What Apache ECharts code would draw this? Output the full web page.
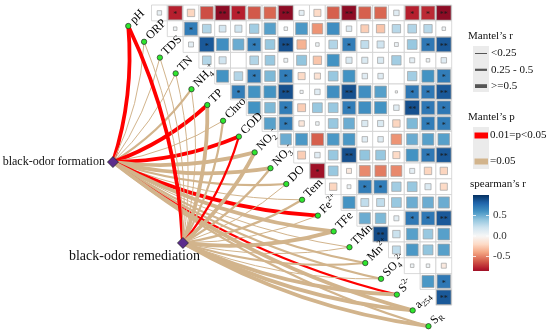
<!DOCTYPE html>
<html><head><meta charset="utf-8">
<script src="https://cdn.jsdelivr.net/npm/echarts@6/dist/echarts.min.js"></script>
<style>html,body{margin:0;padding:0;background:#fff}#c{width:550px;height:334px}</style>
</head><body><div id="c"></div>
<script>
// ---------------- DATA ----------------
const variables = ['pH','ORP','TDS','TN','NH4+','TP','Chro','COD','NO2-','NO3-','DO','Tem','Fe2+','TFe','TMn','Mn2+','SO42-','S2-','a254','SR'];
const variableLabels = ['{n|pH}','{n|ORP}','{n|TDS}','{n|TN}','{n|NH}{sb|4}{sp|+}','{n|TP}','{n|Chro}','{n|COD}',
  '{n|NO}{sb|2}{sp|-}','{n|NO}{sb|3}{sp|-}','{n|DO}','{n|Tem}','{n|Fe}{sp|2+}','{n|TFe}','{n|TMn}','{n|Mn}{sp|2+}',
  '{n|SO}{sb|4}{sp|2-}','{n|S}{sp|2-}','{n|a}{sb|254}','{n|S}{sb|R}'];
// upper triangle: row i (variables[i]) vs columns variables[i+1..19]
const spearmanR = [
 [0.08,-0.78,-0.22,-0.65,-0.9,-0.78,-0.62,-0.58,-0.9,0.1,-0.2,-0.6,-0.9,-0.6,-0.58,0.12,-0.78,-0.75,-0.9],
 [0.05,0.7,0.3,0.18,0.2,0.35,0.55,0.05,0.58,-0.45,0.62,0.12,-0.25,-0.28,0.28,0.3,0.28,0.05],
 [0.1,0.85,0.62,0.5,0.7,0.38,0.88,-0.35,0.05,0.3,0.7,0.25,0.2,0.06,0.38,0.72,0.85],
 [0.3,0.2,0.0,0.3,0.38,0.06,0.4,-0.28,0.6,0.15,0.15,0.15,0.35,0.1,0.05,0.12],
 [0.6,0.3,0.7,0.45,0.7,-0.2,-0.15,0.38,0.6,0.12,0.12,0.0,0.35,0.6,0.7],
 [0.7,0.6,0.6,0.88,0.04,0.12,0.62,0.88,0.62,0.55,0.02,0.72,0.72,0.85],
 [0.6,0.45,0.7,-0.25,0.38,0.38,0.7,0.62,0.6,0.12,0.88,0.72,0.72],
 [0.55,0.7,-0.12,0.05,0.38,0.5,0.15,0.15,-0.22,0.45,0.7,0.7],
 [0.5,0.58,-0.6,0.58,0.58,0.12,0.12,-0.45,0.5,0.55,0.55],
 [-0.25,0.12,0.38,0.88,0.4,0.38,-0.2,0.6,0.72,0.85],
 [-0.85,0.38,-0.1,-0.48,-0.52,-0.48,0.1,-0.22,-0.22],
 [-0.22,0.06,0.7,0.7,0.35,0.38,0.15,-0.2],
 [0.6,0.25,0.25,0.38,0.5,0.5,0.5],
 [0.5,0.45,0.1,0.72,0.72,0.85],
 [0.9,0.22,0.55,0.38,0.55],
 [0.25,0.58,0.4,0.55],
 [0.05,0.05,-0.1],
 [0.58,0.72],
 [0.85]
];
const spearmanSig = [
 ['','*','','','**','*','','','**','','','','**','','','','*','*','**'],
 ['','*','','','','','','','','','','','','','','','',''],
 ['','*','','','*','','**','','','','*','','','','','*','**'],
 ['','','','','','','','','','','','','','','',''],
 ['','','*','','*','','','','','','','','','','*'],
 ['*','','','**','','','','**','','','','*','*','**'],
 ['','','*','','','','*','','','','**','*','*'],
 ['','*','','','','','','','','','*','*'],
 ['','','','','','','','','','',''],
 ['','','','**','','','','','*','**'],
 ['*','','','','','','','',''],
 ['','','*','*','','','',''],
 ['','','','','','',''],
 ['','','','*','*','**'],
 ['**','','','',''],
 ['','','',''],
 ['','',''],
 ['','*'],
 ['**']
];
const groups = ['black-odor formation','black-odor remediation'];
// Mantel's p class: 0 = 0.01=p<0.05 (red), 1 = >=0.05 (tan)
const mantelPFormation   = [0,1,1,1,1,0,1,0,1,1,1,1,0,1,1,1,1,0,1,1];
const mantelPRemediation = [0,1,1,1,1,1,1,0,1,1,1,1,1,1,1,1,1,1,1,1];
// Mantel's r class: 0 = <0.25, 1 = 0.25-0.5, 2 = >=0.5
const mantelRFormation   = [2,0,0,0,1,2,0,2,2,2,1,0,2,2,0,1,1,1,2,1];
const mantelRRemediation = [2,0,0,0,0,2,1,1,2,1,0,1,0,2,0,1,0,2,2,2];
const rClassLabels = ['<0.25','0.25 - 0.5','>=0.5'];
const pClassLabels = ['0.01=p<0.05','=0.05'];
const colorbarTicks = [0.5, 0.0, -0.5];

// ---------------- LAYOUT ----------------
const U = 15.8, X0 = 151.5, Y0 = 5, W = 550, H = 334;
const nodePos = [[-2.44, 9.94], [1.99, 15.06]];   // in cell units
const dotOff = [-1.47, 1.33];
const pColors = ['#FF0000', '#D2B48C'];
const rWidths = [1.0, 2.2, 3.8];
const SERIF = 'Liberation Serif, Times New Roman, serif';

const RDBU = ['#67001F','#B2182B','#D6604D','#F4A582','#FDDBC7','#F7F7F7','#D1E5F0','#92C5DE','#4393C3','#2166AC','#053061'];
function hex2rgb(h){return [parseInt(h.slice(1,3),16),parseInt(h.slice(3,5),16),parseInt(h.slice(5,7),16)];}
function rdbu(v){
  v = Math.max(-1, Math.min(1, v));
  const t = (v + 1) / 2 * 10; let i = Math.floor(t); if (i >= 10) i = 9;
  const f = t - i, a = hex2rgb(RDBU[i]), b = hex2rgb(RDBU[i+1]);
  return 'rgb(' + a.map((x,k)=>Math.round(x + (b[k]-x)*f)).join(',') + ')';
}

const cells = [];
spearmanR.forEach((row, i) => row.forEach((v, k) => cells.push({row: i, col: i + k, v: v, sig: spearmanSig[i][k]})));

const links = [];
[[mantelPFormation, mantelRFormation],[mantelPRemediation, mantelRRemediation]].forEach((pr, g) => {
  variables.forEach((name, i) => {
    links.push({
      coords: [nodePos[g], [i + dotOff[0], i + dotOff[1]]],
      lineStyle: {color: pColors[pr[0][i]], width: rWidths[pr[1][i]], curveness: -0.1, opacity: 1}
    });
  });
});

const richStyle = {
  n: {fontSize: 12, fontFamily: SERIF, color: '#111', lineHeight: 16, verticalAlign: 'middle'},
  sb: {fontSize: 8, fontFamily: SERIF, color: '#111', lineHeight: 8, verticalAlign: 'bottom'},
  sp: {fontSize: 8, fontFamily: SERIF, color: '#111', lineHeight: 8, verticalAlign: 'top'}
};

const chart = echarts.init(document.getElementById('c'));

// colorbar
const cbTop = 195, cbBot = 271, cbX = 473, cbW = 16, cbZero = 236, cbPer = 41;
const vTop = (cbZero - cbTop) / cbPer, vBot = -(cbBot - cbZero) / cbPer;
const stops = [];
for (let k = 0; k <= 40; k++) { const v = vTop + (vBot - vTop) * k / 40; stops.push({offset: k/40, color: rdbu(v)}); }

const graphic = [
  {type:'text', left: 468, top: 31, style:{text:'Mantel\u2019s r', font:'11px ' + SERIF, fill:'#111'}},
  {type:'rect', shape:{x:473, y:46, width:16, height:46}, style:{fill:'#ebebeb'}},
  {type:'text', left: 468, top: 112, style:{text:'Mantel\u2019s p', font:'11px ' + SERIF, fill:'#111'}},
  {type:'rect', shape:{x:473, y:127, width:16, height:42}, style:{fill:'#ebebeb'}},
  {type:'text', left: 470, top: 179, style:{text:'spearman\u2019s r', font:'11px ' + SERIF, fill:'#111'}},
  {type:'rect', shape:{x:cbX, y:cbTop, width:cbW, height:cbBot-cbTop}, style:{fill:{type:'linear', x:0, y:0, x2:0, y2:1, colorStops: stops}}}
];
rClassLabels.forEach((t, k) => {
  const y = 53.5 + k * 16.3;
  graphic.push({type:'line', shape:{x1:475, y1:y, x2:487, y2:y}, style:{stroke:'#555', lineWidth: rWidths[k]}});
  graphic.push({type:'text', x: 491, y: y, style:{text: t, font:'11px ' + SERIF, fill:'#111', verticalAlign:'middle'}});
});
pClassLabels.forEach((t, k) => {
  const y = 135.5 + k * 26;
  graphic.push({type:'rect', shape:{x:474.5, y:y-3, width:13.5, height:6}, style:{fill: pColors[k]}});
  graphic.push({type:'text', x: 490, y: y, style:{text: t, font:'11px ' + SERIF, fill:'#111', verticalAlign:'middle'}});
});
colorbarTicks.forEach(v => {
  const y = cbZero - v * cbPer;
  graphic.push({type:'line', shape:{x1:cbX, y1:y, x2:cbX+3, y2:y}, style:{stroke:'#fff', lineWidth:0.8}});
  graphic.push({type:'line', shape:{x1:cbX+cbW-3, y1:y, x2:cbX+cbW, y2:y}, style:{stroke:'#fff', lineWidth:0.8}});
  graphic.push({type:'text', x: 493, y: y, style:{text: v.toFixed(1), font:'11px ' + SERIF, fill:'#333', verticalAlign:'middle'}});
});

chart.setOption({
  animation: false,
  backgroundColor: '#fff',
  grid: {left: 0, right: 0, top: 0, bottom: 0},
  xAxis: {type:'value', min: -X0/U, max: (W - X0)/U, show: false},
  yAxis: {type:'value', min: -Y0/U, max: (H - Y0)/U, inverse: true, show: false},
  graphic: graphic,
  series: [
    {
      type: 'lines', coordinateSystem: 'cartesian2d', z: 1, silent: true,
      lineStyle: {opacity: 1},
      data: links
    },
    {
      type: 'custom', z: 2, silent: true,
      data: cells.map(c => [c.col + 0.5, c.row + 0.5]),
      renderItem: function (params, api) {
        const c = cells[params.dataIndex];
        const p0 = api.coord([c.col, c.row]), p1 = api.coord([c.col + 1, c.row + 1]);
        const w = p1[0] - p0[0], h = p1[1] - p0[1];
        const s = Math.min(0.92, Math.sqrt(Math.abs(c.v))) * w;
        const cx = p0[0] + w/2, cy = p0[1] + h/2;
        const ch = [
          {type:'rect', shape:{x:p0[0], y:p0[1], width:w, height:h}, style:{fill:'#fff', stroke:'#cfcfcf', lineWidth:0.8}},
        ];
        if (s > 0.5) ch.push({type:'rect', shape:{x:cx-s/2, y:cy-s/2, width:s, height:s}, style:{fill:rdbu(c.v), stroke:'#a0a0a0', lineWidth:0.7}});
        if (c.sig) ch.push({type:'text', x: cx, y: cy + 2, style:{text:c.sig, font:'8px ' + SERIF, fill:'#1a1a1a', align:'center', verticalAlign:'middle'}});
        return {type:'group', children: ch};
      }
    },
    {
      type: 'custom', z: 3, silent: true,
      data: variables.map((v, i) => [i + dotOff[0], i + dotOff[1]]),
      renderItem: function (params, api) {
        const p = api.coord([api.value(0), api.value(1)]);
        return {type:'group', children: [
          {type:'circle', shape:{cx:p[0], cy:p[1], r:2.7}, style:{fill:'#2ee62e', stroke:'#2a2a2a', lineWidth:0.7}},
          {type:'text', x: p[0] + 4, y: p[1] - 4, rotation: Math.PI/4,
            style:{text: variableLabels[params.dataIndex], rich: richStyle, align:'left', verticalAlign:'middle'}}
        ]};
      }
    },
    {
      type: 'custom', z: 4, silent: true,
      data: nodePos,
      renderItem: function (params, api) {
        const p = api.coord([api.value(0), api.value(1)]);
        const g = params.dataIndex;
        const txt = g === 0
          ? {type:'text', x: p[0] - 8, y: p[1], style:{text: groups[0], font:'12px ' + SERIF, fill:'#111', align:'right', verticalAlign:'middle'}}
          : {type:'text', x: p[0] - 114, y: p[1] + 13, style:{text: groups[1], font:'14px ' + SERIF, fill:'#111', align:'left', verticalAlign:'middle'}};
        return {type:'group', children: [
          {type:'polygon', shape:{points:[[p[0], p[1]-5.5],[p[0]+5.5, p[1]],[p[0], p[1]+5.5],[p[0]-5.5, p[1]]]}, style:{fill:'#5b2c8c', stroke:'#1e1e1e', lineWidth:0.7}},
          txt
        ]};
      }
    }
  ]
});
</script>
</body></html>
